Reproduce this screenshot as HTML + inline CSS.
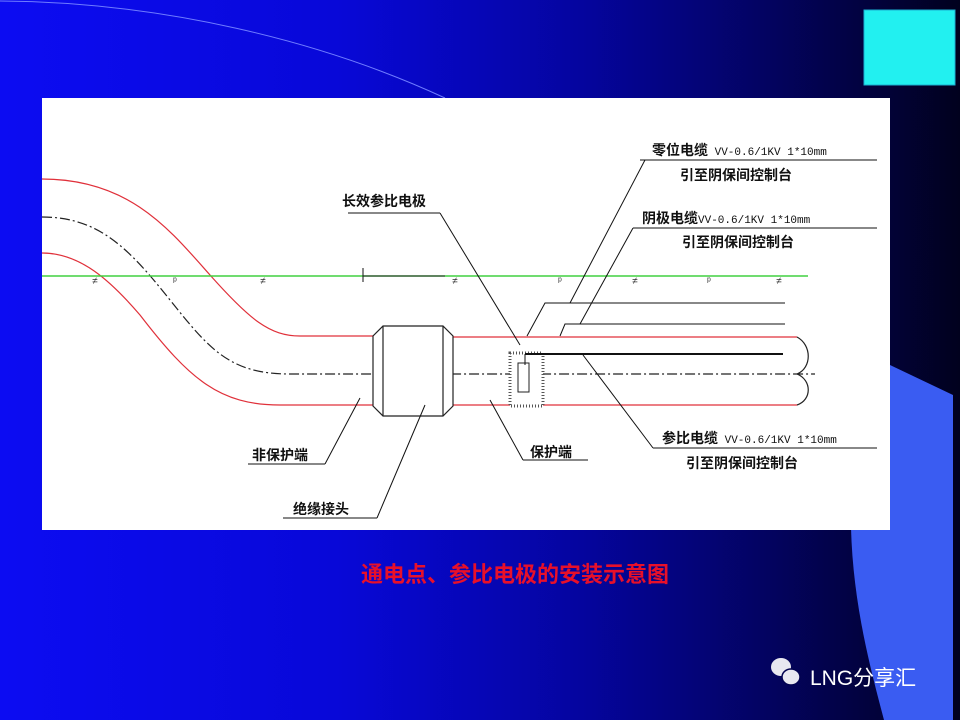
<!DOCTYPE html>
<html><head><meta charset="utf-8"><style>
html,body{margin:0;padding:0}
body{width:960px;height:720px;overflow:hidden;position:relative;background:linear-gradient(90deg,#0c0cf2 0%,#0808d8 35%,#0505a0 60%,#030360 80%,#01011e 100%);font-family:"Liberation Sans","Noto Sans CJK SC",sans-serif}
</style></head><body>
<svg width="960" height="720" style="position:absolute;left:0;top:0">
<path d="M890,365 L953,395 L953,720 L884,720 C868,660 853,600 851,528 L860,440 Z" fill="#3a5cf2"/>
<path d="M0,1 C160,2 320,40 445,98" fill="none" stroke="#6f7cff" stroke-width="1"/>
<rect x="864" y="10" width="91" height="75" fill="#22f0f0" stroke="#1ab0d0"/>
<rect x="42" y="98" width="848" height="432" fill="#fff"/>
<g fill="none" stroke-width="1.2">
<path d="M42,179 C130,179 170,230 210,275 C250,320 270,336 300,336 L373,336" stroke="#e0303a"/>
<path d="M42,253 C80,253 110,280 140,315 C190,380 220,405 280,405 L373,405" stroke="#e0303a"/>
<path d="M453,337 L797,337 M453,405 L797,405" stroke="#e0303a"/>
<path d="M42,217 C100,217 130,250 170,300 C210,350 230,374 290,374 L815,374" stroke="#222" stroke-dasharray="10,3,2,3"/>
<line x1="42" y1="276" x2="808" y2="276" stroke="#40d040" stroke-width="1.5"/>
<path d="M797,337 C812,345 812,368 797,374 C812,380 812,400 797,405" stroke="#222"/>
</g>
<g fill="#fff" stroke="#222" stroke-width="1.2">
<path d="M383,326 L443,326 L453,336 L453,406 L443,416 L383,416 L373,406 L373,336 Z"/>
<line x1="383" y1="326" x2="383" y2="416"/><line x1="443" y1="326" x2="443" y2="416"/>
</g>
<rect x="510" y="353" width="33" height="53" fill="#fff" stroke="#555" stroke-width="3" stroke-dasharray="1,2"/>
<rect x="518" y="363" width="11" height="29" fill="#fff" stroke="#222"/>
<g stroke="#111" fill="none" stroke-width="1">
<line x1="525" y1="354" x2="783" y2="354" stroke-width="2"/>
<line x1="525" y1="354" x2="525" y2="365"/>
<path d="M785,303 L545,303 L527,336"/><path d="M785,324 L565,324 L560,336"/>
<line x1="640" y1="160" x2="877" y2="160"/><line x1="645" y1="160" x2="570" y2="303"/>
<line x1="633" y1="228" x2="877" y2="228"/><line x1="633" y1="228" x2="580" y2="324"/>
<line x1="653" y1="448" x2="877" y2="448"/><line x1="653" y1="448" x2="583" y2="355"/>
<line x1="523" y1="460" x2="588" y2="460"/><line x1="523" y1="460" x2="490" y2="400"/>
<line x1="348" y1="213" x2="440" y2="213"/><line x1="440" y1="213" x2="520" y2="345"/>
<line x1="248" y1="464" x2="325" y2="464"/><line x1="325" y1="464" x2="360" y2="398"/>
<line x1="283" y1="518" x2="377" y2="518"/><line x1="377" y1="518" x2="425" y2="405"/>
<line x1="363" y1="268" x2="363" y2="282"/><line x1="363" y1="276" x2="445" y2="276" stroke="#222"/>
</g>
<g font-size="10" fill="#333" font-family="Liberation Mono,monospace">
<text x="92" y="284">≠</text><text x="172" y="284">ᵖ</text><text x="260" y="284">≠</text><text x="452" y="284">≠</text><text x="557" y="284">ᵖ</text><text x="632" y="284">≠</text><text x="706" y="284">ᵖ</text><text x="776" y="284">≠</text>
</g>
<g font-weight="bold" fill="#111" font-size="14" font-family="'Liberation Sans','Noto Sans CJK SC',sans-serif">
<text x="652" y="155">零位电缆<tspan font-family="Liberation Mono,monospace" font-weight="normal" font-size="11"> VV-0.6/1KV 1*10mm</tspan></text>
<text x="680" y="180">引至阴保间控制台</text>
<text x="642" y="223">阴极电缆<tspan font-family="Liberation Mono,monospace" font-weight="normal" font-size="11">VV-0.6/1KV 1*10mm</tspan></text>
<text x="682" y="247">引至阴保间控制台</text>
<text x="662" y="443">参比电缆<tspan font-family="Liberation Mono,monospace" font-weight="normal" font-size="11"> VV-0.6/1KV 1*10mm</tspan></text>
<text x="686" y="468">引至阴保间控制台</text>
<text x="342" y="206">长效参比电极</text>
<text x="530" y="457">保护端</text>
<text x="252" y="460">非保护端</text>
<text x="293" y="514">绝缘接头</text>
</g>
<text x="515" y="582" text-anchor="middle" font-size="22" font-weight="bold" fill="#e8102a" font-family="'Liberation Sans','Noto Sans CJK SC',sans-serif">通电点、参比电极的安装示意图</text>
<g fill="#e8e8f0">
<ellipse cx="781" cy="667" rx="10" ry="9"/><ellipse cx="791" cy="677" rx="9" ry="8" stroke="#020250" stroke-width="1.5"/>
</g>
<text x="810" y="685" font-size="21" fill="#fff" font-family="'Liberation Sans','Noto Sans CJK SC',sans-serif">LNG分享汇</text>
</svg>
</body></html>
